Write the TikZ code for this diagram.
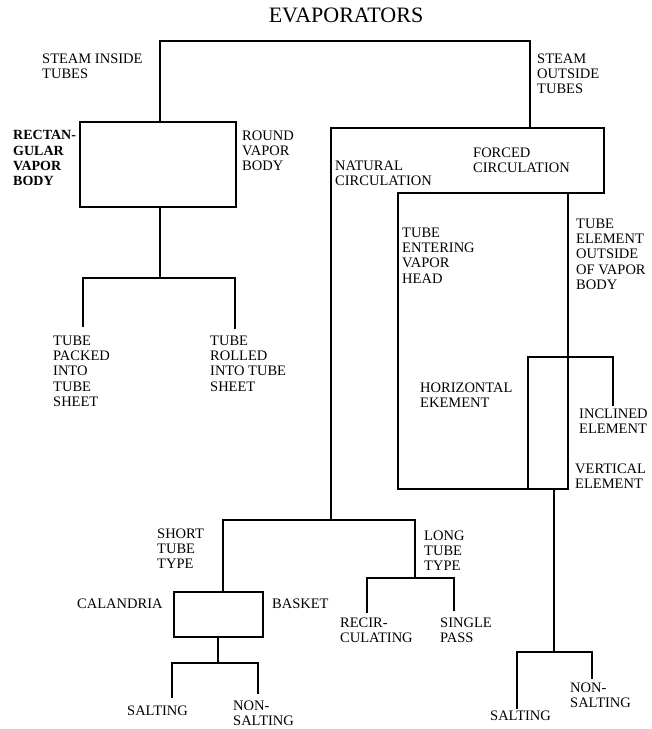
\documentclass[tikz,border=0pt]{standalone}
\usepackage{fontspec}
\setmainfont{Liberation Serif}
\begin{document}
\begin{tikzpicture}[x=1pt,y=-1pt,
  wire/.style={line width=2.8pt, line join=miter, line cap=rect},
  lbl/.style={anchor=north west, inner sep=0pt, align=left, font=\fontsize{14.5}{15.3}\selectfont},
  blbl/.style={lbl, font=\bfseries\fontsize{14}{15.3}\selectfont},
  ttl/.style={anchor=base, inner sep=0pt, font=\fontsize{22}{24}\selectfont},
  boxn/.style={draw, line width=2.8pt, inner sep=0pt}]
\useasboundingbox (0,0) rectangle (652,729);
% title
\node[ttl] (title) at (346,22) {EVAPORATORS};
% boxes
\node[boxn, minimum width=156pt, minimum height=85pt] (vb) at (158,164.5) {};
\node[boxn, minimum width=89pt, minimum height=45pt] (cb) at (218.5,614.5) {};
% coordinates
\coordinate (tl) at (160,41); \coordinate (tr) at (530,41);
\coordinate (fc) at (530,128);
\coordinate (nA) at (331,128); \coordinate (nB) at (604,128);
\coordinate (nC) at (604,193); \coordinate (nD) at (398,193);
\coordinate (nE) at (398,489); \coordinate (nF) at (568,489);
\coordinate (nG) at (568,193);
\coordinate (nat) at (331,520);
\coordinate (sm1) at (528,357); \coordinate (sm2) at (613,357);
\coordinate (sm3) at (613,405); \coordinate (sm4) at (528,489);
\coordinate (vs) at (554,489); \coordinate (vj) at (554,652);
\coordinate (vL) at (517,652); \coordinate (vR) at (592,652);
\coordinate (vLe) at (517,708); \coordinate (vRe) at (592,678);
\coordinate (sj1) at (223,520); \coordinate (lj1) at (415,520);
\coordinate (ct) at (223,592);
\coordinate (cs1) at (218,637); \coordinate (cs2) at (218,663);
\coordinate (hL) at (172,663); \coordinate (hR) at (258,663);
\coordinate (hLe) at (172,697); \coordinate (hRe) at (258,693);
\coordinate (lj2) at (415,578);
\coordinate (rL) at (367,578); \coordinate (rR) at (454,578);
\coordinate (rLe) at (367,612); \coordinate (rRe) at (454,610);
\coordinate (vb1) at (160,122); \coordinate (vb2) at (160,207);
\coordinate (pj) at (160,278);
\coordinate (pL) at (83,278); \coordinate (pR) at (235,278);
\coordinate (pLe) at (83,326); \coordinate (pRe) at (235,328);
% connectors
\draw[wire] (vb1) -- (tl) -- (tr) -- (fc);
\draw[wire] (nat) -- (nA) -- (nB) -- (nC) -- (nD) -- (nE) -- (nF) -- (nG);
\draw[wire] (sm4) -- (sm1) -- (sm2) -- (sm3);
\draw[wire] (vs) -- (vj);
\draw[wire] (vLe) -- (vL) -- (vR) -- (vRe);
\draw[wire] (sj1) -- (lj1);
\draw[wire] (sj1) -- (ct);
\draw[wire] (cs1) -- (cs2);
\draw[wire] (hLe) -- (hL) -- (hR) -- (hRe);
\draw[wire] (lj1) -- (lj2);
\draw[wire] (rLe) -- (rL) -- (rR) -- (rRe);
\draw[wire] (vb2) -- (pj);
\draw[wire] (pLe) -- (pL) -- (pR) -- (pRe);
% labels (north = first baseline - 9.5)
\node[lbl] (l1) at (42,53.5) {STEAM INSIDE\\TUBES};
\node[lbl] (l2) at (537,53.5) {STEAM\\OUTSIDE\\TUBES};
\node[blbl] (l3) at (13,130.5) {RECTAN-\\GULAR\\VAPOR\\BODY};
\node[lbl] (l4) at (242,130.5) {ROUND\\VAPOR\\BODY};
\node[lbl] (l5) at (53,335.5) {TUBE\\PACKED\\INTO\\TUBE\\SHEET};
\node[lbl] (l6) at (210,335.5) {TUBE\\ROLLED\\INTO TUBE\\SHEET};
\node[lbl] (l7) at (335,160.5) {NATURAL\\CIRCULATION};
\node[lbl] (l8) at (473,147.5) {FORCED\\CIRCULATION};
\node[lbl] (l9) at (402,227.5) {TUBE\\ENTERING\\VAPOR\\HEAD};
\node[lbl] (l10) at (576,218.5) {TUBE\\ELEMENT\\OUTSIDE\\OF VAPOR\\BODY};
\node[lbl] (l11) at (420,382.5) {HORIZONTAL\\EKEMENT};
\node[lbl] (l12) at (579,408.5) {INCLINED\\ELEMENT};
\node[lbl] (l13) at (575,463.5) {VERTICAL\\ELEMENT};
\node[lbl] (l14) at (157,528.5) {SHORT\\TUBE\\TYPE};
\node[lbl] (l15) at (424,530.5) {LONG\\TUBE\\TYPE};
\node[lbl] (l16) at (77,598.5) {CALANDRIA};
\node[lbl] (l17) at (272,598.5) {BASKET};
\node[lbl] (l18) at (340,617.5) {RECIR-\\CULATING};
\node[lbl] (l19) at (440,617.5) {SINGLE\\PASS};
\node[lbl] (l20) at (127,705.5) {SALTING};
\node[lbl] (l21) at (233,700.5) {NON-\\SALTING};
\node[lbl] (l22) at (490,710.5) {SALTING};
\node[lbl] (l23) at (570,682.5) {NON-\\SALTING};
\end{tikzpicture}
\end{document}
